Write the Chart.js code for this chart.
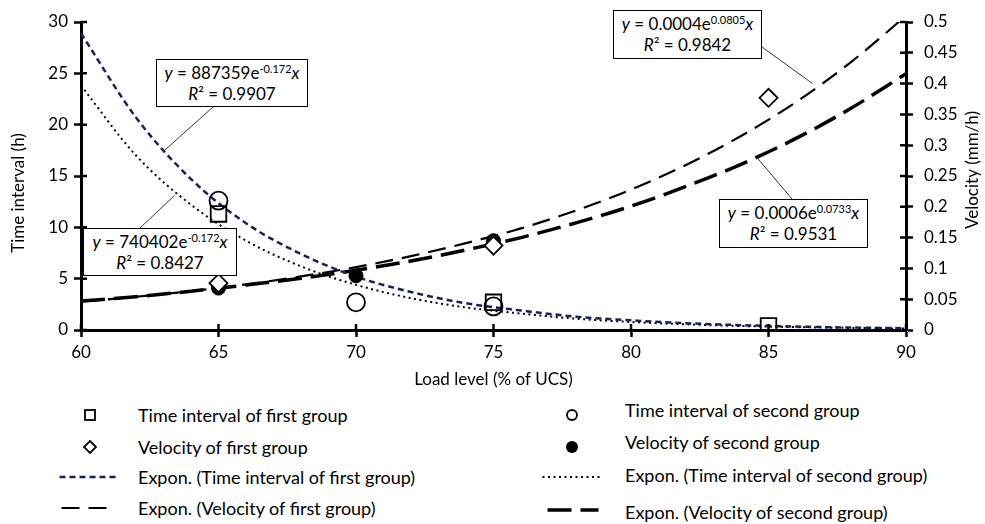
<!DOCTYPE html>
<html>
<head>
<meta charset="utf-8">
<title>Time interval and velocity vs load level</title>
<script src="https://cdn.jsdelivr.net/npm/chart.js@4.4.1/dist/chart.umd.min.js"></script>
<style>
    body { margin: 0; background: #fff; font-family: Lato, sans-serif; color: #000; }
    #wrap { position: relative; width: 985px; height: 524px; overflow: hidden; }
    #chartBox { position: absolute; left: 0; top: 0; width: 985px; height: 390px; }
    .eq { position: absolute; box-sizing: border-box; border: 1.5px solid #000; background: #fff;
          text-align: center; font-size: 17px; line-height: 21px; padding-top: 2px; }
    .eq sup { font-size: 11px; vertical-align: 6px; line-height: 0; }
    .leg { position: absolute; font-size: 18px; white-space: nowrap; line-height: 20px; transform: translateY(-50%); }
    .sym { position: absolute; }
</style>
</head>
<body>
<div id="wrap">
    <div id="chartBox"><canvas id="loadChart"></canvas></div>

    <div class="eq" style="left:156px;top:59px;width:152px;height:48px">
        <div><i>y</i> = 887359e<sup>-0.172</sup><i>x</i></div>
        <div><i>R</i>² = 0.9907</div>
    </div>
    <div class="eq" style="left:83px;top:228px;width:154px;height:48px">
        <div><i>y</i> = 740402e<sup>-0.172</sup><i>x</i></div>
        <div><i>R</i>² = 0.8427</div>
    </div>
    <div class="eq" style="left:613px;top:10px;width:149px;height:49px">
        <div><i>y</i> = 0.0004e<sup>0.0805</sup><i>x</i></div>
        <div><i>R</i>² = 0.9842</div>
    </div>
    <div class="eq" style="left:719px;top:199px;width:149px;height:49px">
        <div><i>y</i> = 0.0006e<sup>0.0733</sup><i>x</i></div>
        <div><i>R</i>² = 0.9531</div>
    </div>

    <div id="legend"></div>
</div>

<script>
// Measured points (load level, % of UCS)
const loadFirst = [65, 75, 85];
const loadSecond = [65, 70, 75];
const timeFirst = [11.3, 2.7, 0.4];       // h
const timeSecond = [12.6, 2.7, 2.3];      // h
const velFirst = [0.076, 0.137, 0.377];   // mm/h
const velSecond = [0.068, 0.088, 0.145];  // mm/h

// Exponential trend curves
const trendLoad = [60, 62, 64, 66, 68, 70, 72, 74, 76, 78, 80, 82, 84, 86, 88, 90];
const trendTimeFirst = [28.9, 20.7, 14.7, 10.4, 7.4, 5.2, 3.7, 2.6, 1.9, 1.3, 0.94, 0.66, 0.47, 0.33, 0.24, 0.17];
const trendTimeSecond = [23.8, 17.0, 12.2, 8.7, 6.2, 4.4, 3.1, 2.2, 1.6, 1.1, 0.78, 0.55, 0.39, 0.28, 0.2, 0.14];
const trendVelFirst = [0.046, 0.054, 0.063, 0.074, 0.087, 0.102, 0.12, 0.141, 0.165, 0.194, 0.228, 0.268, 0.315, 0.37, 0.435, 0.51];
const trendVelSecond = [0.047, 0.054, 0.063, 0.073, 0.084, 0.097, 0.112, 0.13, 0.15, 0.174, 0.201, 0.233, 0.269, 0.311, 0.36, 0.416];

const FONT = 'Lato';

function pairs(xs, ys) {
    return xs.map((x, i) => ({ x: x, y: ys[i] }));
}

// leader lines from equation boxes (pixel) to a spot on the curve (data)
const leaders = [
    { from: [213, 107], axis: 'y', at: [63, 17.4] },
    { from: [140, 228], axis: 'y', at: [63.4, 13.1] },
    { from: [762, 47], axis: 'y2', at: [86.6, 0.40] },
    { from: [792, 199], axis: 'y2', at: [84.6, 0.279] }
];

const leaderPlugin = {
    id: 'leaders',
    afterDatasetsDraw(chart) {
        const ctx = chart.ctx;
        ctx.save();
        ctx.strokeStyle = '#333';
        ctx.lineWidth = 1;
        leaders.forEach(l => {
            const px = chart.scales.x.getPixelForValue(l.at[0]);
            const py = chart.scales[l.axis].getPixelForValue(l.at[1]);
            ctx.beginPath();
            ctx.moveTo(l.from[0], l.from[1]);
            ctx.lineTo(px, py);
            ctx.stroke();
        });
        ctx.restore();
    }
};

// tick marks that cross the axis line, plus the two rotated axis titles
const axisExtras = {
    id: 'axisExtras',
    afterDraw(chart) {
        const { ctx, chartArea: a, scales } = chart;
        ctx.save();
        ctx.strokeStyle = '#000';
        ctx.lineWidth = 2.5;
        ctx.beginPath();
        scales.x.ticks.forEach(t => {
            const p = scales.x.getPixelForValue(t.value);
            ctx.moveTo(p, a.bottom);
            ctx.lineTo(p, a.bottom - 6);
        });
        scales.y.ticks.forEach(t => {
            const p = scales.y.getPixelForValue(t.value);
            ctx.moveTo(a.left, p);
            ctx.lineTo(a.left + 6, p);
        });
        scales.y2.ticks.forEach(t => {
            const p = scales.y2.getPixelForValue(t.value);
            ctx.moveTo(a.right, p);
            ctx.lineTo(a.right - 6, p);
        });
        ctx.stroke();

        ctx.fillStyle = '#000';
        ctx.font = '17px ' + FONT;
        ctx.textAlign = 'center';
        ctx.textBaseline = 'middle';
        const mid = (a.top + a.bottom) / 2;
        ctx.save();
        ctx.translate(19, mid + 17);
        ctx.rotate(-Math.PI / 2);
        ctx.fillText('Time interval (h)', 0, 0);
        ctx.restore();
        ctx.save();
        ctx.translate(973, mid - 6);
        ctx.rotate(-Math.PI / 2);
        ctx.fillText('Velocity (mm/h)', 0, 0);
        ctx.restore();
        ctx.restore();
    }
};

const tickFont = { family: FONT, size: 17 };

const chart = new Chart(document.getElementById('loadChart'), {
    type: 'scatter',
    data: {
        datasets: [
            {
                label: 'Time interval of first group',
                data: pairs(loadFirst, timeFirst),
                yAxisID: 'y',
                pointStyle: 'rect',
                pointRadius: 11,
                borderColor: '#000',
                backgroundColor: 'rgba(0,0,0,0)',
                borderWidth: 1.8
            },
            {
                label: 'Time interval of second group',
                data: pairs(loadSecond, timeSecond),
                yAxisID: 'y',
                pointStyle: 'circle',
                pointRadius: 9,
                borderColor: '#000',
                backgroundColor: 'rgba(0,0,0,0)',
                borderWidth: 1.8
            },
            {
                label: 'Velocity of first group',
                data: pairs(loadFirst, velFirst),
                yAxisID: 'y2',
                pointStyle: 'rectRot',
                pointRadius: 9,
                borderColor: '#000',
                backgroundColor: '#fff',
                borderWidth: 1.8
            },
            {
                label: 'Velocity of second group',
                data: pairs(loadSecond, velSecond),
                yAxisID: 'y2',
                pointStyle: 'circle',
                pointRadius: 7,
                borderColor: '#000',
                backgroundColor: '#000',
                borderWidth: 1
            },
            {
                label: 'Expon. (Time interval of first group)',
                data: pairs(trendLoad, trendTimeFirst),
                yAxisID: 'y',
                showLine: true,
                pointRadius: 0,
                borderColor: '#1a1f5c',
                borderWidth: 2.5,
                borderDash: [6, 4],
                cubicInterpolationMode: 'monotone'
            },
            {
                label: 'Expon. (Time interval of second group)',
                data: pairs(trendLoad, trendTimeSecond),
                yAxisID: 'y',
                showLine: true,
                pointRadius: 0,
                borderColor: '#000',
                borderWidth: 2,
                borderDash: [2, 3.5],
                cubicInterpolationMode: 'monotone'
            },
            {
                label: 'Expon. (Velocity of first group)',
                data: pairs(trendLoad, trendVelFirst),
                yAxisID: 'y2',
                showLine: true,
                pointRadius: 0,
                borderColor: '#000',
                borderWidth: 2.2,
                borderDash: [18, 9],
                cubicInterpolationMode: 'monotone'
            },
            {
                label: 'Expon. (Velocity of second group)',
                data: pairs(trendLoad, trendVelSecond),
                yAxisID: 'y2',
                showLine: true,
                pointRadius: 0,
                borderColor: '#000',
                borderWidth: 3.5,
                borderDash: [24, 9],
                cubicInterpolationMode: 'monotone'
            }
        ]
    },
    options: {
        responsive: true,
        maintainAspectRatio: false,
        animation: false,
        layout: { padding: { top: 22, left: 0, right: 0, bottom: 0 } },
        plugins: {
            legend: { display: false },
            tooltip: { enabled: false }
        },
        scales: {
            x: {
                type: 'linear',
                min: 60,
                max: 90,
                ticks: { stepSize: 5, color: '#000', font: tickFont, padding: 5 },
                grid: { drawOnChartArea: false, color: '#000', tickLength: 7, tickWidth: 2.5 },
                border: { color: '#000', width: 3 },
                title: {
                    display: true,
                    text: 'Load level (% of UCS)',
                    color: '#000',
                    font: { family: FONT, size: 17 },
                    padding: { top: 0, bottom: 0 }
                },
                afterFit: function (scale) { scale.height = 60; }
            },
            y: {
                position: 'left',
                min: 0,
                max: 30,
                ticks: { stepSize: 5, color: '#000', font: tickFont, padding: 6 },
                grid: { drawOnChartArea: false, color: '#000', tickLength: 7, tickWidth: 2.5 },
                border: { color: '#000', width: 3 },
                afterFit: function (scale) { scale.width = 81; }
            },
            y2: {
                position: 'right',
                min: 0,
                max: 0.5,
                ticks: {
                    stepSize: 0.05,
                    maxTicksLimit: 20,
                    color: '#000',
                    font: tickFont,
                    padding: 11,
                    callback: function (value) { return String(parseFloat(value.toFixed(2))); }
                },
                grid: { drawOnChartArea: false, color: '#000', tickLength: 7, tickWidth: 2.5 },
                border: { color: '#000', width: 3 },
                afterFit: function (scale) { scale.width = 79; }
            }
        }
    },
    plugins: [leaderPlugin, axisExtras]
});

// two-column legend under the plot, built from the datasets
const legendSlots = [
    { ds: 0, sx: 90, sy: 415, tx: 138, ty: 415 },
    { ds: 2, sx: 90, sy: 447, tx: 138, ty: 447 },
    { ds: 4, sx: 89, sy: 477, tx: 138, ty: 477 },
    { ds: 6, sx: 87, sy: 508, tx: 138, ty: 508 },
    { ds: 1, sx: 572, sy: 415, tx: 625, ty: 410 },
    { ds: 3, sx: 572, sy: 447, tx: 625, ty: 442 },
    { ds: 5, sx: 572, sy: 477, tx: 625, ty: 475 },
    { ds: 7, sx: 573, sy: 510, tx: 625, ty: 512 }
];

function symbolSvg(d) {
    const c = 'stroke="#000" stroke-width="1.8"';
    let body;
    if (d.showLine) {
        const len = d.borderDash[0] > 10 ? 51 : 59;
        body = '<line x1="' + (60 - len) / 2 + '" y1="10" x2="' + (60 + len) / 2 + '" y2="10" stroke="' +
            d.borderColor + '" stroke-width="' + d.borderWidth + '" stroke-dasharray="' +
            d.borderDash.join(' ') + '"/>';
    } else if (d.pointStyle === 'rect') {
        body = '<rect x="25" y="5" width="10" height="10" fill="none" ' + c + '/>';
    } else if (d.pointStyle === 'rectRot') {
        body = '<polygon points="30,4 36,10 30,16 24,10" fill="none" ' + c + '/>';
    } else if (d.backgroundColor === '#000') {
        body = '<circle cx="30" cy="10" r="6" fill="#000"/>';
    } else {
        body = '<circle cx="30" cy="10" r="5" fill="none" ' + c + '/>';
    }
    return '<svg width="60" height="20" viewBox="0 0 60 20">' + body + '</svg>';
}

const legendEl = document.getElementById('legend');
legendSlots.forEach(s => {
    const d = chart.data.datasets[s.ds];
    const sym = document.createElement('div');
    sym.className = 'sym';
    sym.style.left = (s.sx - 30) + 'px';
    sym.style.top = (s.sy - 10) + 'px';
    sym.innerHTML = symbolSvg(d);
    legendEl.appendChild(sym);

    const txt = document.createElement('div');
    txt.className = 'leg';
    txt.style.left = s.tx + 'px';
    txt.style.top = s.ty + 'px';
    txt.textContent = d.label;
    legendEl.appendChild(txt);
});
</script>
</body>
</html>
